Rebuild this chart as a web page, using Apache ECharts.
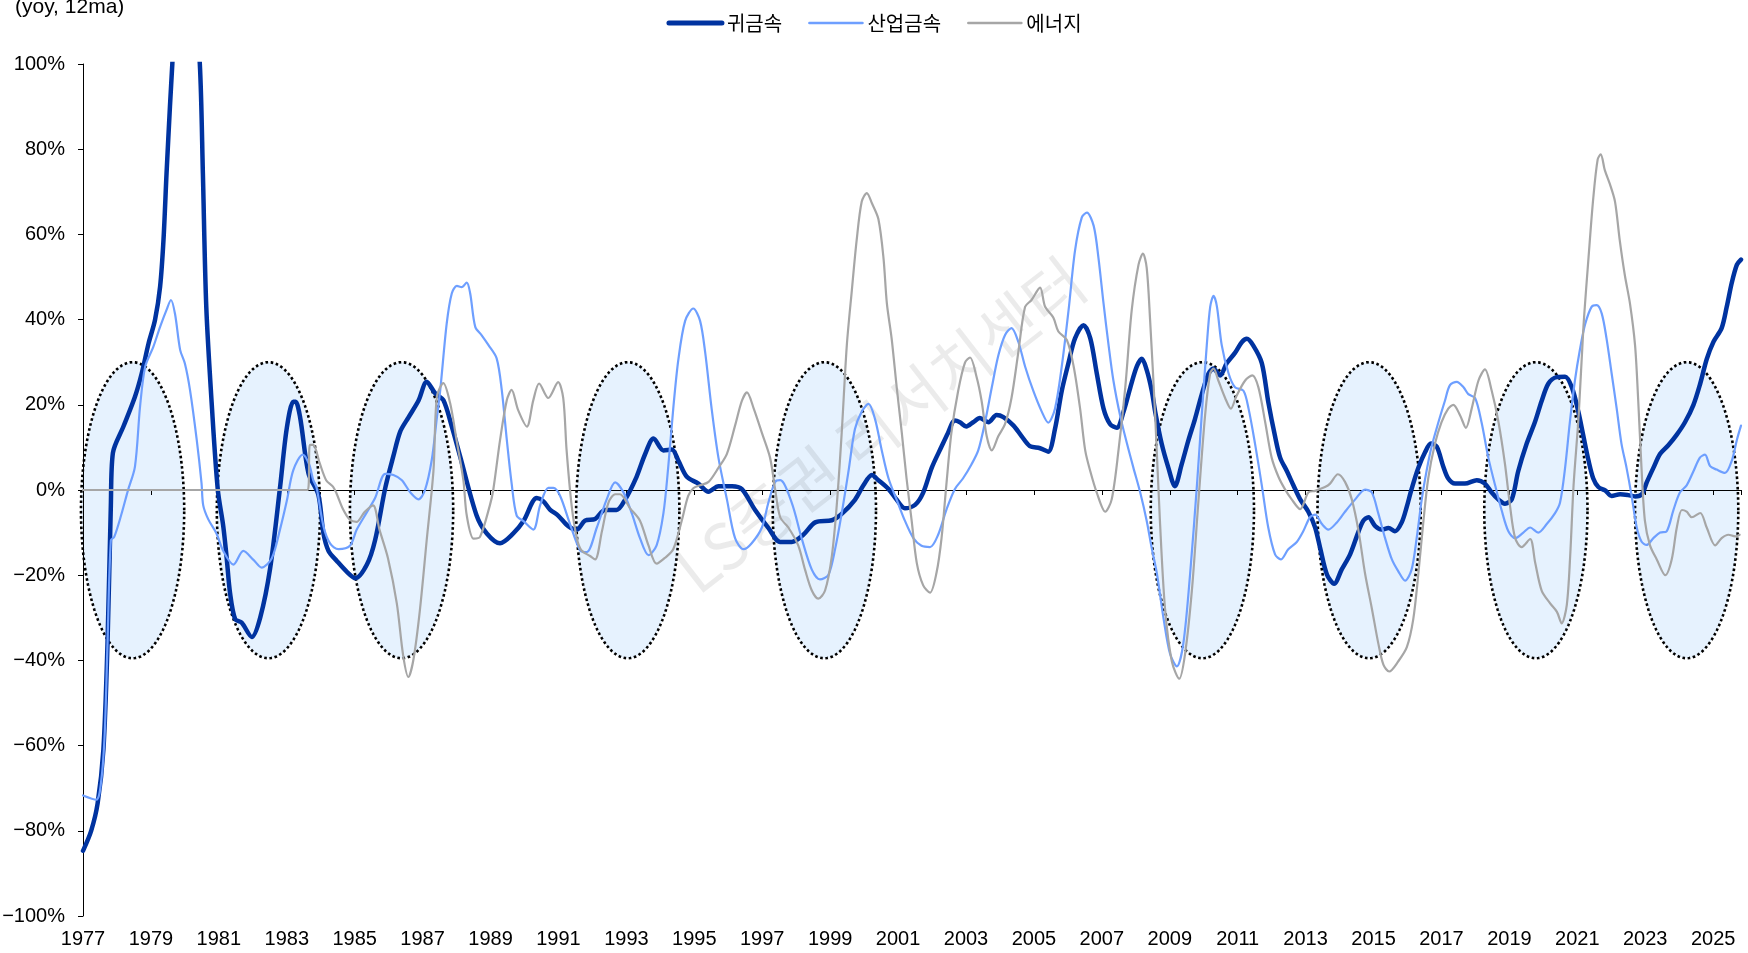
<!DOCTYPE html>
<html lang="ko">
<head>
<meta charset="utf-8">
<title>귀금속 · 산업금속 · 에너지 (yoy, 12ma)</title>
<script src="https://cdn.jsdelivr.net/npm/echarts@6/dist/echarts.min.js"></script>
<style>
  html, body { margin: 0; padding: 0; background: #fff; }
  #chart { width: 1748px; height: 953px; }
</style>
</head>
<body>
<div id="chart"></div>
<script>
// x축은 1977년을 0으로 두고 2년 간격 눈금
var BASE_YEAR = 1977;
var LAST_YEAR = 2025.82;
var seriesNames = ['귀금속', '산업금속', '에너지'];
var unitLabel = '(yoy, 12ma)';
var watermarkText = 'LS증권 리서치센터';

// 음영 구간 (타원 중심 연도), 세로 범위는 % 단위
var cycleCenters = [1978.46, 1982.46, 1986.38, 1993.04, 1998.83, 2009.96, 2014.87, 2019.78, 2024.22];
var cycleRange = [-39.5, 30];
var cycleHalfYears = 1.52;

// 귀금속 [연도, %]
var precious = [[1977.00,-84.7],[1977.24,-80],[1977.43,-73.6],[1977.60,-61],[1977.72,-36.5],[1977.82,-3.6],[1977.88,8.7],[1978.19,14.9],[1978.53,21.9],[1978.73,27.4],[1978.93,34.4],[1979.12,39.9],[1979.27,47.7],[1979.37,58.7],[1979.46,74.3],[1979.56,90],[1979.63,100],[1979.80,125],[1980.00,135],[1980.20,125],[1980.44,100],[1980.53,74.3],[1980.63,43],[1980.80,19],[1980.97,0],[1981.13,-8.5],[1981.23,-15.9],[1981.33,-24.2],[1981.48,-30.3],[1981.67,-31.1],[1981.97,-34.5],[1982.22,-29.9],[1982.51,-18.4],[1982.80,0.5],[1983.00,14.5],[1983.19,20.7],[1983.26,20.7],[1983.39,17.2],[1983.64,3.9],[1983.93,-1.1],[1984.08,-10.2],[1984.23,-14.3],[1984.48,-16.7],[1984.77,-19.2],[1985.02,-20.7],[1985.36,-17.5],[1985.60,-11.8],[1985.90,0.5],[1986.14,8],[1986.34,13.7],[1986.58,17],[1986.88,21],[1987.12,25.4],[1987.37,22.7],[1987.61,21.1],[1987.86,14.9],[1988.10,8],[1988.59,-6],[1988.89,-10.2],[1989.28,-12.5],[1989.67,-10.2],[1989.97,-7.3],[1990.36,-1.9],[1990.55,-2.6],[1990.75,-4.6],[1990.99,-6],[1991.29,-8.5],[1991.54,-9.3],[1991.78,-7.2],[1992.08,-6.8],[1992.37,-4.7],[1992.71,-4.7],[1992.96,-2.3],[1993.30,3.1],[1993.55,8.4],[1993.80,12.1],[1994.09,9.3],[1994.34,9.5],[1994.53,6.9],[1994.78,3.1],[1995.12,1.5],[1995.42,-0.4],[1995.71,0.9],[1996.11,0.9],[1996.40,0.2],[1996.79,-4.7],[1997.18,-8.9],[1997.53,-12.2],[1997.87,-12.2],[1998.21,-10.5],[1998.56,-7.6],[1999.05,-7.1],[1999.34,-5.6],[1999.73,-2.3],[1999.98,1.1],[2000.23,3.5],[2000.42,2.3],[2000.72,0.2],[2000.96,-2.3],[2001.20,-4.3],[2001.50,-3.5],[2001.74,-0.6],[2001.99,5.2],[2002.28,10.2],[2002.47,13.4],[2002.67,16.3],[2002.82,15.9],[2003.01,14.9],[2003.21,15.9],[2003.41,16.9],[2003.66,15.9],[2003.90,17.6],[2004.10,17.1],[2004.40,15.1],[2004.64,12.6],[2004.88,10.3],[2005.18,9.8],[2005.42,9.0],[2005.62,14.3],[2005.82,23.3],[2006.02,29.9],[2006.21,35.6],[2006.46,38.7],[2006.66,35.6],[2006.85,27.4],[2007.05,19.1],[2007.24,15.5],[2007.44,14.6],[2007.64,18.4],[2007.84,24.1],[2008.03,29],[2008.18,30.8],[2008.32,28.2],[2008.47,23.3],[2008.57,18.4],[2008.76,10.9],[2008.96,5.2],[2009.15,0.9],[2009.35,6],[2009.55,11.7],[2009.74,16.6],[2009.94,22.4],[2010.14,27.3],[2010.28,28.5],[2010.48,26.9],[2010.68,29.8],[2010.92,32.2],[2011.12,34.7],[2011.27,35.5],[2011.46,33.9],[2011.71,29.8],[2011.90,20.7],[2012.10,12.6],[2012.25,7.6],[2012.45,4.4],[2012.64,1.1],[2012.84,-2.2],[2013.08,-5.1],[2013.28,-8.8],[2013.43,-13.7],[2013.63,-19.9],[2013.84,-22],[2014.06,-18.7],[2014.31,-15.1],[2014.56,-9.7],[2014.70,-7.2],[2014.85,-6.4],[2015.05,-8.5],[2015.24,-9.3],[2015.44,-8.9],[2015.63,-9.7],[2015.83,-7.6],[2015.98,-3.9],[2016.12,0.2],[2016.32,5.2],[2016.52,8.9],[2016.69,10.9],[2016.86,10.2],[2017.05,5.6],[2017.20,2.7],[2017.40,1.5],[2017.69,1.5],[2018.04,2.3],[2018.28,1.5],[2018.48,-0.6],[2018.67,-2.2],[2018.87,-3.2],[2019.07,-2.2],[2019.26,4.4],[2019.51,10.9],[2019.75,15.9],[2019.95,20.9],[2020.15,25],[2020.39,26.5],[2020.64,26.6],[2020.84,24.1],[2021.03,18.4],[2021.18,12.6],[2021.33,6.9],[2021.47,2.7],[2021.62,0.7],[2021.82,-0.1],[2022.01,-1.4],[2022.26,-1],[2022.50,-1.2],[2022.70,-1.5],[2022.90,-1.0],[2023.05,1.9],[2023.24,5.2],[2023.44,8.5],[2023.68,10.5],[2023.93,13],[2024.17,15.9],[2024.42,20],[2024.62,25],[2024.81,30.7],[2025.01,34.8],[2025.25,38],[2025.40,43],[2025.55,48.7],[2025.70,52.9],[2025.82,54.1]];

// 산업금속 [연도, %]
var industrial = [[1977.00,-71.7],[1977.39,-72.7],[1977.54,-68],[1977.64,-57],[1977.72,-36.5],[1977.82,-11.8],[1977.92,-11],[1978.12,-6],[1978.32,-0.2],[1978.53,5.5],[1978.68,19.6],[1978.83,28.9],[1979.07,33.6],[1979.27,38.3],[1979.46,42.3],[1979.59,44.6],[1979.71,41.3],[1979.86,32.9],[1980.00,29.7],[1980.15,23.5],[1980.35,11.7],[1980.49,1.6],[1980.54,-3.6],[1980.69,-6.9],[1980.93,-10.2],[1981.13,-14.3],[1981.43,-17.5],[1981.72,-14.3],[1982.02,-16.4],[1982.26,-18.2],[1982.56,-16],[1982.80,-9.3],[1983.00,-2.6],[1983.19,4.6],[1983.47,8.3],[1983.66,6],[1983.78,2.3],[1983.88,0.5],[1984.08,-8.5],[1984.28,-12.6],[1984.52,-13.9],[1984.86,-13.1],[1985.06,-9.3],[1985.36,-5.2],[1985.60,-1.9],[1985.90,3.8],[1986.14,3.5],[1986.39,2.3],[1986.64,-0.6],[1986.88,-2.2],[1987.07,0],[1987.27,7.1],[1987.42,17],[1987.52,23.5],[1987.71,39.1],[1987.86,46.2],[1988.01,47.9],[1988.15,47.6],[1988.30,48.7],[1988.40,46.2],[1988.55,38.3],[1988.74,36.3],[1988.94,34],[1989.18,30.9],[1989.33,23.5],[1989.48,11.7],[1989.62,1.6],[1989.77,-6],[1989.97,-7.3],[1990.26,-9.3],[1990.46,-3.6],[1990.70,0.5],[1990.85,0.5],[1991.05,-1.4],[1991.34,-8],[1991.64,-14.2],[1991.83,-14.6],[1992.13,-8.8],[1992.42,-2.2],[1992.67,1.8],[1992.91,-0.5],[1993.16,-5.5],[1993.40,-11.3],[1993.65,-15.3],[1993.89,-13],[1994.09,-5.5],[1994.23,5.2],[1994.38,19.1],[1994.53,30.6],[1994.73,39.7],[1994.97,42.6],[1995.17,39.7],[1995.32,32.3],[1995.51,19.1],[1995.71,7.6],[1995.96,-2.2],[1996.20,-11.3],[1996.45,-13.9],[1996.69,-12.5],[1996.99,-8.8],[1997.18,-3],[1997.38,1.9],[1997.53,2.3],[1997.87,-3],[1998.16,-11.3],[1998.46,-18.7],[1998.70,-21],[1998.95,-19.9],[1999.15,-13.7],[1999.34,-5.5],[1999.54,4.4],[1999.73,14.3],[1999.93,18.4],[2000.13,20.2],[2000.32,16.7],[2000.52,9.3],[2000.72,2.7],[2000.96,-2.3],[2001.20,-7.2],[2001.45,-11.3],[2001.69,-13.1],[2001.94,-13.4],[2002.18,-10.5],[2002.42,-4.7],[2002.67,0.2],[2002.91,2.7],[2003.16,6],[2003.36,9.3],[2003.56,15.9],[2003.76,24.1],[2003.95,31.5],[2004.15,36.4],[2004.34,38],[2004.54,34.8],[2004.74,29],[2004.98,23.3],[2005.23,18.4],[2005.42,15.8],[2005.62,19.1],[2005.82,29],[2006.02,42.2],[2006.21,56.2],[2006.41,64],[2006.56,65.1],[2006.76,62],[2006.90,54.5],[2007.05,43.8],[2007.20,33.9],[2007.34,25.7],[2007.54,17.4],[2007.74,10.9],[2007.93,5.2],[2008.13,-0.6],[2008.32,-7.2],[2008.47,-13.7],[2008.62,-19.6],[2008.82,-30.3],[2009.01,-38.5],[2009.21,-41.4],[2009.40,-36],[2009.60,-19.6],[2009.80,1.1],[2009.94,17.5],[2010.09,34],[2010.19,43],[2010.29,45.6],[2010.39,43],[2010.53,34],[2010.73,27.4],[2010.92,24.1],[2011.17,23.3],[2011.32,19.1],[2011.51,10.9],[2011.71,1.1],[2011.90,-8.8],[2012.10,-15.1],[2012.27,-16.3],[2012.49,-13.9],[2012.74,-12.2],[2012.93,-9.7],[2013.13,-6.4],[2013.28,-5.8],[2013.48,-8],[2013.67,-9.3],[2013.92,-7.6],[2014.16,-5.1],[2014.46,-2.2],[2014.75,0.1],[2014.95,-0.6],[2015.14,-5.5],[2015.34,-11.3],[2015.54,-16.3],[2015.73,-19.1],[2015.93,-21.3],[2016.12,-18.7],[2016.27,-11.3],[2016.42,-2.2],[2016.56,4.4],[2016.71,10.2],[2016.91,15.9],[2017.10,20.9],[2017.25,24.6],[2017.45,25.4],[2017.65,24.1],[2017.79,22.5],[2017.99,21.6],[2018.18,15.9],[2018.38,7.6],[2018.58,1.1],[2018.77,-4.7],[2018.97,-9.7],[2019.17,-11.3],[2019.41,-10],[2019.61,-8.8],[2019.85,-10],[2020.10,-8],[2020.34,-5.5],[2020.49,-3],[2020.64,5.2],[2020.78,15.9],[2020.93,25.7],[2021.08,33.1],[2021.23,38.9],[2021.42,43],[2021.57,43.4],[2021.72,41.4],[2021.86,35.6],[2022.01,27.4],[2022.16,19.1],[2022.30,10.9],[2022.45,5.2],[2022.60,-1.4],[2022.75,-8.8],[2022.89,-12.1],[2023.04,-12.9],[2023.24,-11.3],[2023.44,-10],[2023.63,-9.7],[2023.83,-4.7],[2024.02,-0.6],[2024.22,1.1],[2024.42,4.4],[2024.61,7.6],[2024.76,8.3],[2024.91,5.6],[2025.10,4.8],[2025.35,4],[2025.55,6.9],[2025.70,11.8],[2025.82,15.1]];

// 에너지 [연도, %] (1983년 이전은 0)
var energy = [[1977.00,0],[1983.62,0],[1983.68,10.6],[1983.78,10.6],[1983.97,6.3],[1984.16,2.3],[1984.36,0.8],[1984.46,-0.7],[1984.65,-4.4],[1984.85,-6.9],[1985.05,-7.5],[1985.29,-5.2],[1985.54,-3.6],[1985.73,-9.3],[1985.98,-16],[1986.24,-26.6],[1986.43,-39],[1986.58,-43.9],[1986.73,-39.8],[1986.92,-28.2],[1987.12,-11.8],[1987.32,4.6],[1987.42,21.9],[1987.61,25.1],[1987.81,20.4],[1988.00,11.7],[1988.20,2.3],[1988.30,-6],[1988.50,-11.4],[1988.69,-11],[1988.98,-3.6],[1989.08,0],[1989.28,11.7],[1989.48,21.1],[1989.62,23.5],[1989.81,18.8],[1990.07,14.9],[1990.26,21.1],[1990.43,25],[1990.70,21.6],[1990.99,25.3],[1991.14,21.6],[1991.24,9.3],[1991.39,-3.8],[1991.54,-11.3],[1991.68,-14.2],[1991.93,-15.5],[1992.08,-16.3],[1992.28,-9.7],[1992.47,-3],[1992.67,-1],[1992.81,-1],[1993.11,-4.3],[1993.40,-7.2],[1993.65,-13],[1993.89,-17.3],[1994.14,-15.9],[1994.38,-13.9],[1994.63,-7.2],[1994.82,-1.4],[1994.97,0.4],[1995.17,1.1],[1995.42,1.9],[1995.71,5.2],[1995.96,8.5],[1996.20,15.1],[1996.40,20.9],[1996.55,22.9],[1996.75,19.1],[1996.99,13.4],[1997.23,7.6],[1997.38,0.2],[1997.53,-6.4],[1997.77,-8.8],[1998.06,-13],[1998.26,-18.7],[1998.46,-23.6],[1998.65,-25.5],[1998.85,-23.6],[1999.05,-15.5],[1999.20,-3],[1999.34,13.4],[1999.49,33.9],[1999.64,47],[1999.78,58.6],[1999.93,67.7],[2000.08,69.7],[2000.23,67.3],[2000.42,63.6],[2000.57,54.5],[2000.67,43.8],[2000.81,35.6],[2000.96,24.1],[2001.11,13.4],[2001.25,2.7],[2001.40,-7.2],[2001.55,-17.1],[2001.74,-22.4],[2001.94,-24.1],[2002.13,-19.5],[2002.28,-11.3],[2002.42,1.1],[2002.57,13.4],[2002.77,23.3],[2002.97,29.9],[2003.12,31.1],[2003.31,26.6],[2003.46,20.9],[2003.61,12.6],[2003.76,9.3],[2003.95,12.6],[2004.15,15.5],[2004.34,21.6],[2004.54,32.3],[2004.74,43],[2004.93,44.6],[2005.18,47.5],[2005.33,43],[2005.57,40.5],[2005.72,37.2],[2005.97,35.2],[2006.17,29],[2006.36,19.1],[2006.51,9.3],[2006.66,4.4],[2006.85,-0.6],[2007.10,-5.1],[2007.29,-2.2],[2007.49,9.3],[2007.69,24.1],[2007.88,42.2],[2008.08,52.9],[2008.21,55.5],[2008.32,52.2],[2008.42,40],[2008.57,17.5],[2008.71,-7.2],[2008.86,-27.8],[2009.06,-40.2],[2009.28,-44.3],[2009.45,-38.5],[2009.65,-23.7],[2009.84,-3],[2010.04,17.5],[2010.19,27.4],[2010.29,28.5],[2010.43,25.7],[2010.63,21.6],[2010.80,19.1],[2010.96,22],[2011.22,25.7],[2011.43,26.9],[2011.61,24.1],[2011.81,15.9],[2012.00,7.6],[2012.20,3.1],[2012.39,0.2],[2012.59,-2.2],[2012.84,-4.5],[2013.08,-0.6],[2013.28,-0.2],[2013.57,0.7],[2013.72,1.5],[2013.95,3.7],[2014.16,1.9],[2014.36,-2.2],[2014.56,-9.7],[2014.75,-19.6],[2014.95,-27.8],[2015.14,-36],[2015.29,-41],[2015.46,-42.6],[2015.73,-40.2],[2015.98,-36.9],[2016.17,-30.3],[2016.32,-19.6],[2016.47,-7.2],[2016.61,2.7],[2016.81,10.9],[2017.00,15.9],[2017.20,19.1],[2017.35,20],[2017.55,17.5],[2017.72,14.6],[2017.89,19.1],[2018.09,25.7],[2018.28,28.3],[2018.48,23.3],[2018.68,15.9],[2018.87,6.1],[2019.02,-3.8],[2019.17,-11.3],[2019.36,-13.4],[2019.61,-11.5],[2019.76,-17.1],[2019.95,-23.6],[2020.20,-26.6],[2020.40,-28.6],[2020.54,-31.3],[2020.69,-27],[2020.79,-15.5],[2020.89,1.1],[2021.04,17.5],[2021.18,38.2],[2021.33,54.5],[2021.47,68.5],[2021.60,77.6],[2021.69,78.8],[2021.81,75.1],[2021.96,71.8],[2022.11,67.7],[2022.25,58.6],[2022.40,50.4],[2022.55,43.8],[2022.70,34],[2022.79,21.6],[2022.89,5.2],[2022.99,-7.2],[2023.14,-13],[2023.34,-16.3],[2023.59,-20],[2023.78,-16.3],[2023.93,-8.8],[2024.08,-4.7],[2024.22,-5.1],[2024.37,-6.4],[2024.62,-5.4],[2024.81,-8.8],[2025.06,-13],[2025.25,-11.3],[2025.45,-10.5],[2025.65,-10.9],[2025.78,-10.5]];

var NARROW = "'Liberation Sans Narrow', 'Arial Narrow', 'Liberation Sans', sans-serif";
var KOREAN = "'Noto Sans CJK KR', 'Noto Sans', sans-serif";

function toAxis(list) {
  return list.map(function (p) { return [p[0] - BASE_YEAR, p[1]]; });
}

var chart = echarts.init(document.getElementById('chart'));

var lineColors = ['#0033a0', '#6e9fff', '#a6a6a6'];
var lineWidths = [4.5, 2.2, 2.2];

function lineSeries(i, data) {
  return {
    name: seriesNames[i],
    type: 'line',
    data: toAxis(data),
    symbol: 'none',
    showSymbol: false,
    smooth: 0.3,
    clip: true,
    z: 4,
    lineStyle: { color: lineColors[i], width: lineWidths[i], cap: 'round', join: 'round' },
    itemStyle: { color: lineColors[i] },
    emphasis: { disabled: true }
  };
}

var xRange = { min: 0, max: LAST_YEAR - BASE_YEAR, interval: 2 };

chart.setOption({
  animation: false,
  backgroundColor: '#ffffff',
  title: {
    text: unitLabel,
    left: 10,
    top: -8,
    textStyle: { fontFamily: NARROW, fontSize: 21, fontWeight: 'normal', color: '#000' }
  },
  legend: {
    top: 8,
    left: 'center',
    itemWidth: 53,
    itemHeight: 14,
    itemGap: 26,
    itemStyle: { opacity: 0 },
    textStyle: { fontFamily: KOREAN, fontSize: 20, color: '#000' },
    data: seriesNames.map(function (n, i) {
      return { name: n, lineStyle: { width: i === 0 ? 5 : 2.6, cap: 'round' } };
    })
  },
  graphic: [{
    type: 'text',
    x: 880,
    y: 425,
    rotation: 0.66,
    z: 3,
    silent: true,
    style: {
      text: watermarkText,
      fontFamily: KOREAN,
      fontSize: 64,
      fill: 'rgba(0,0,0,0.08)',
      textAlign: 'center',
      textVerticalAlign: 'middle'
    }
  }],
  grid: { left: 83, right: 7, top: 64, bottom: 37, containLabel: false, outerBoundsMode: 'none' },
  xAxis: [{
    type: 'value',
    min: xRange.min,
    max: xRange.max,
    interval: xRange.interval,
    position: 'bottom',
    axisLine: { show: false, onZero: false },
    axisTick: { show: false },
    splitLine: { show: false },
    axisLabel: {
      margin: 13,
      showMaxLabel: false,
      fontFamily: NARROW,
      fontSize: 20,
      color: '#000',
      formatter: function (v) { return Math.abs(v - Math.round(v)) < 1e-6 ? String(BASE_YEAR + v) : ''; }
    }
  }, {
    type: 'value',
    min: xRange.min,
    max: xRange.max,
    interval: xRange.interval,
    position: 'bottom',
    z: 3,
    axisLine: { show: true, onZero: true, lineStyle: { color: '#000', width: 1 } },
    axisTick: { show: true, length: 5, lineStyle: { color: '#000', width: 1 } },
    axisLabel: { show: false },
    splitLine: { show: false }
  }],
  yAxis: {
    type: 'value',
    min: -100,
    max: 100,
    interval: 20,
    z: 3,
    axisLine: { show: true, lineStyle: { color: '#000', width: 1 } },
    axisTick: { show: true, length: 5, lineStyle: { color: '#000', width: 1 } },
    splitLine: { show: false },
    axisLabel: {
      margin: 18,
      fontFamily: NARROW,
      fontSize: 20,
      color: '#000',
      formatter: function (v) { return (v < 0 ? '\u2212' + Math.abs(v) : v) + '%'; }
    }
  },
  series: [{
    type: 'custom',
    name: 'cycles',
    xAxisIndex: 0,
    z: 1,
    silent: true,
    data: cycleCenters.map(function (c) { return [c - BASE_YEAR, 0]; }),
    encode: { x: 0, y: 1 },
    renderItem: function (params, api) {
      var cx = api.value(0);
      var mid = (cycleRange[0] + cycleRange[1]) / 2;
      var ry = (cycleRange[1] - cycleRange[0]) / 2;
      var pts = [];
      for (var k = 0; k < 120; k++) {
        var a = k / 120 * Math.PI * 2;
        pts.push(api.coord([cx + cycleHalfYears * Math.cos(a), mid + ry * Math.sin(a)]));
      }
      return {
        type: 'polygon',
        shape: { points: pts },
        style: { fill: '#e6f2fe', stroke: '#000', lineWidth: 2.6, lineDash: [2.6, 2.6] }
      };
    }
  },
    lineSeries(0, precious),
    lineSeries(1, industrial),
    lineSeries(2, energy)
  ]
});
</script>
</body>
</html>
